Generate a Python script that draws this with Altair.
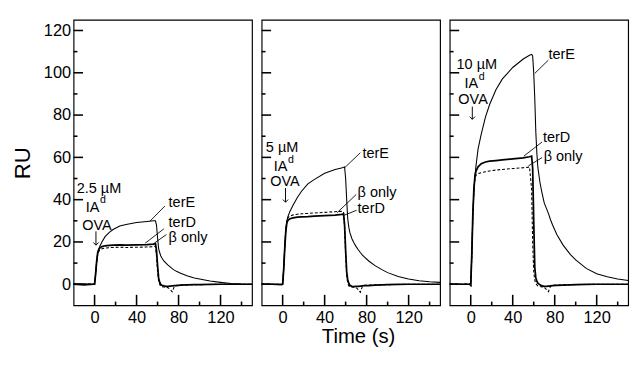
import altair as alt
import pandas as pd

FONT = "Liberation Sans"
W, H = 185, 296
XD = [-20, 150]
YD = [-10, 125]

# time grid (s)
T = [-20, -10, -1, 0, 1, 2, 3, 4, 5, 7, 10, 14, 18, 24, 30, 40, 50, 56, 58, 59,
     60, 61, 62, 63, 64, 66, 68, 70, 72, 74, 76, 78, 82, 88, 95, 100, 110, 120, 130, 140, 150]

# Panel 1: 2.5 uM
P1_TERE = [0, 0.2, 0, 0, 5, 11, 15, 16.5, 18, 20, 22.5, 24.5, 26, 27.5, 28.3, 29.2, 29.7, 30, 30, 28,
           22, 17, 15, 13.5, 12.5, 11, 10, 9, 8.2, 7.4, 6.7, 6.1, 5.2, 4, 3, 2.5, 1.5, 0.9, 0.4, 0.1, 0]
P1_TERD = [0, -0.3, 0, 0, 5, 11, 15, 16.5, 17.2, 17.8, 18.2, 18.4, 18.5, 18.6, 18.5, 18.6, 18.7, 19, 19.2, 16,
           9, 3, 1, 0, -0.5, -0.8, -1, -1, -0.9, -0.8, -0.7, -0.6, -0.4, -0.3, -0.2, -0.2, -0.1, 0, 0, 0, 0]
P1_BETA = [0.3, 0, 0.2, 0, 4.5, 10, 14, 15.5, 16.2, 16.8, 17.1, 17.3, 17.4, 17.5, 17.4, 17.5, 17.6, 17.8, 18, 13,
           6, 1.5, 0, -1, -1.2, -1.3, -1.4, -1.6, -2.5, -3.6, -1, -0.5, -0.4, -0.3, -0.2, -0.2, -0.1, 0, 0, 0, 0]

# Panel 2: 5 uM
P2_TERE = [0, 0, 0, 0, 8, 18, 26, 30, 32, 34.5, 37.5, 41, 44, 47.5, 49.5, 52.5, 54.3, 55, 55.3, 55.5,
           50, 40, 31, 27, 24.5, 21.5, 19.5, 17.8, 16.3, 15, 13.8, 12.8, 11, 8.8, 6.8, 5.5, 3.7, 2.5, 1.7, 1.2, 0.9]
P2_TERD = [0, 0, -0.2, 0, 7, 17, 25, 29, 30.3, 31, 31.4, 31.7, 31.9, 32, 32.2, 32.4, 32.7, 33, 33.2, 28,
           16, 6, 2, 0.5, -0.5, -1, -1.1, -1, -1, -0.9, -0.8, -0.7, -0.6, -0.4, -0.3, -0.2, -0.1, 0, 0, 0, 0]
P2_BETA = [0.2, 0, 0, 0, 7, 17, 25.5, 30, 31.5, 32.3, 32.8, 33.1, 33.3, 33.5, 33.7, 34, 34.3, 34.5, 34.2, 27,
           14, 4, 0.5, -0.8, -1.2, -1.3, -1.4, -1.6, -2.5, -3.8, -1, -0.5, -0.4, -0.3, -0.2, -0.2, -0.1, 0, 0, 0, 0]

# Panel 3: 10 uM
P3_TERE = [0, 0, 0, -0.5, 14, 33, 44, 51, 56, 64, 71, 79, 85, 92, 97, 102.5, 106.5, 108.3, 108.7, 108,
           100, 88, 72, 62, 55, 48, 43, 38.5, 36, 33.5, 30.5, 28, 23.5, 18.5, 14, 11.5, 7.5, 5, 3.5, 2.5, 1.8]
P3_TERD = [0, 0, 0, -0.5, 14, 33, 45, 51, 53.5, 55.5, 57, 57.8, 58.2, 58.5, 58.8, 59.3, 59.8, 60.3, 60.6, 55,
           30, 8, 3, 1.5, 0.5, -0.3, -0.8, -1, -1, -0.9, -0.8, -0.7, -0.5, -0.4, -0.3, -0.2, -0.1, 0, 0, 0, 0]
P3_BETA = [0.3, 0, 0.2, -0.5, 13, 32, 44, 50, 51.5, 52.3, 52.8, 53.2, 53.6, 54, 54.3, 54.7, 55.1, 55.4, 45, 20,
           6, 2, 0.5, -0.3, -0.8, -1.1, -1.3, -1.5, -2.4, -3.5, -1, -0.5, -0.4, -0.3, -0.2, -0.2, -0.1, 0, 0, 0, 0]

# tick values and tick lengths (in data units: ~10 px / ~4 px)
Y_MAJOR = [0, 20, 40, 60, 80, 100, 120]
Y_MINOR = [10, 30, 50, 70, 90, 110]
X_MAJOR = [0, 40, 80, 120]
X_MINOR = [20, 60, 100, 140]
YTICK_LEN = [9.0, 3.7]   # in seconds
XTICK_LEN = [5.0, 1.8]   # in RU

# annotations
TEXT_ALIGN = ["left", "right", "left", "center", "left", "left", "left"]
TEXT_SIZE = [15, 15, 11, 15, 15, 15, 15]
P1_TEXT = ["2.5 µM", "IA", "d", "OVA", "terE", "terD", "β only"]
P2_TEXT = ["5 µM", "IA", "d", "OVA", "terE", "terD", "β only"]
P3_TEXT = ["10 µM", "IA", "d", "OVA", "terE", "terD", "β only"]
P1_TX = [-17, 4.5, 5.2, 2.2, 70.5, 70.5, 70.5]
P1_TY = [43.2, 34, 38.2, 25.7, 36.5, 27, 20]
P2_TX = [-16, 4.5, 5.2, 2.2, 76, 71.4, 71.4]
P2_TY = [62.4, 53.7, 57.3, 46.5, 59.5, 33.5, 41.3]
P3_TX = [-13.5, 7, 7.7, 2.2, 74, 68.8, 69.5]
P3_TY = [102, 93, 96.5, 85.3, 106.5, 67.4, 58.4]

# leader lines (terE, terD, beta only)
P1_LT1 = [52.7, 48.2, 57]; P1_LV1 = [29.8, 19.4, 19.5]; P1_LT2 = [67, 66, 68.5]; P1_LV2 = [37, 26.2, 23.5]
P2_LT1 = [59.5, 58, 51.8]; P2_LV1 = [55.3, 32.5, 33.8]; P2_LT2 = [74, 70.5, 70]; P2_LV2 = [62.2, 35, 42.4]
P3_LT1 = [61, 50.6, 55]; P3_LV1 = [99.7, 60.6, 56]; P3_LT2 = [74, 68, 68]; P3_LV2 = [106, 67.3, 59.9]

# injection arrows: t, top, tip
P1_ARROW = [1.3, 25, 18.5]
P2_ARROW = [2.7, 45.5, 38.8]
P3_ARROW = [1.5, 84, 78]

xs = alt.Scale(domain=XD, nice=False, zero=False)
ys = alt.Scale(domain=YD, nice=False, zero=False)


def tick_frame(panel):
    rows = []
    for vals, ln in [(Y_MAJOR, YTICK_LEN[0]), (Y_MINOR, YTICK_LEN[1])]:
        for v in vals:
            key = f"{panel}y{v}"
            rows.append({"kt": XD[0], "kv": v, "kid": key, "ko": 0})
            rows.append({"kt": XD[0] + ln, "kv": v, "kid": key, "ko": 1})
    for vals, ln in [(X_MAJOR, XTICK_LEN[0]), (X_MINOR, XTICK_LEN[1])]:
        for t in vals:
            key = f"{panel}x{t}"
            rows.append({"kt": t, "kv": YD[0], "kid": key, "ko": 0})
            rows.append({"kt": t, "kv": YD[0] + ln, "kid": key, "ko": 1})
    return pd.DataFrame(rows)


def make_panel(panel, e, d, b, texts, tx, ty, lt1, lv1, lt2, lv2, arrow, first, mid):
    df = pd.DataFrame({"t": T, "e": e, "d": d, "b": b})
    base = alt.Chart(df)
    xk = dict(orient="bottom", values=X_MAJOR, ticks=False, tickSize=0, domain=False,
              grid=False, labelPadding=5, labelFontSize=17, labelFont=FONT, labelColor="black",
              titleFont=FONT, titleFontSize=21, titleFontWeight="normal", titleColor="black",
              titlePadding=0)
    if mid:
        xk["title"] = "Time (s)"
        xk["titleX"] = 100
    else:
        xk["title"] = None
    xlab = alt.Axis(**xk)
    if first:
        ylab = alt.Axis(orient="left", values=Y_MAJOR, ticks=False, tickSize=0,
                        domain=False, grid=False, labelPadding=3, labelFontSize=17, labelFont=FONT,
                        labelColor="black", title="RU", titleFont=FONT, titleFontSize=23,
                        titleFontWeight="normal", titleColor="black", titlePadding=9)
        ye = alt.Y("e:Q", scale=ys, axis=ylab)
    else:
        ye = alt.Y("e:Q", scale=ys, axis=None)

    line_e = base.mark_line(color="black", strokeWidth=1.1).encode(
        x=alt.X("t:Q", scale=xs, axis=xlab), y=ye)
    line_d = base.mark_line(color="black", strokeWidth=1.8).encode(
        x=alt.X("t:Q", scale=xs, axis=None), y=alt.Y("d:Q", scale=ys, axis=None))
    line_b = base.mark_line(color="black", strokeWidth=1.1, strokeDash=[3, 2]).encode(
        x=alt.X("t:Q", scale=xs, axis=None), y=alt.Y("b:Q", scale=ys, axis=None))

    # inward ticks drawn as short two-point line segments
    ticks = alt.Chart(tick_frame(panel)).mark_line(color="black", strokeWidth=1.6).encode(
        x=alt.X("kt:Q", scale=xs, axis=None), y=alt.Y("kv:Q", scale=ys, axis=None),
        detail="kid:N", order="ko:Q")

    ldf = pd.DataFrame({"t1": lt1, "v1": lv1, "t2": lt2, "v2": lv2})
    leaders = alt.Chart(ldf).mark_rule(color="black", strokeWidth=0.9).encode(
        x=alt.X("t1:Q", scale=xs, axis=None), y=alt.Y("v1:Q", scale=ys, axis=None),
        x2="t2:Q", y2="v2:Q")

    adf = pd.DataFrame({"t": [arrow[0]], "top": [arrow[1]], "tip": [arrow[2]]})
    shaft = alt.Chart(adf).mark_rule(color="black", strokeWidth=1).encode(
        x=alt.X("t:Q", scale=xs, axis=None), y=alt.Y("top:Q", scale=ys, axis=None), y2="tip:Q")
    head = alt.Chart(adf).mark_point(shape="M-1,-1L0,0L1,-1", filled=False, color="black",
                                     strokeWidth=1, size=30, opacity=1).encode(
        x=alt.X("t:Q", scale=xs, axis=None), y=alt.Y("tip:Q", scale=ys, axis=None))

    text_layers = []
    for al in ["left", "right", "center"]:
        idx = [i for i, a in enumerate(TEXT_ALIGN) if a == al]
        tdf = pd.DataFrame({"label": [texts[i] for i in idx], "tt": [tx[i] for i in idx],
                            "vv": [ty[i] for i in idx], "fs": [TEXT_SIZE[i] for i in idx]})
        text_layers.append(
            alt.Chart(tdf).mark_text(font=FONT, color="black", align=al, baseline="alphabetic").encode(
                x=alt.X("tt:Q", scale=xs, axis=None), y=alt.Y("vv:Q", scale=ys, axis=None),
                text="label:N", size=alt.Size("fs:Q", scale=None)))

    return alt.layer(line_e, line_d, line_b, ticks, leaders, shaft, head,
                     *text_layers).resolve_axis(
        x="independent", y="independent").properties(width=W, height=H)


p1 = make_panel("a", P1_TERE, P1_TERD, P1_BETA, P1_TEXT, P1_TX, P1_TY, P1_LT1, P1_LV1, P1_LT2, P1_LV2,
                P1_ARROW, True, False)
p2 = make_panel("b", P2_TERE, P2_TERD, P2_BETA, P2_TEXT, P2_TX, P2_TY, P2_LT1, P2_LV1, P2_LT2, P2_LV2,
                P2_ARROW, False, True)
p3 = make_panel("c", P3_TERE, P3_TERD, P3_BETA, P3_TEXT, P3_TX, P3_TY, P3_LT1, P3_LV1, P3_LT2, P3_LV2,
                P3_ARROW, False, False)

chart = alt.hconcat(p1, p2, p3, spacing=0).properties(
    padding={"left": 4, "top": 5, "right": 0, "bottom": 0}, background="white"
).configure_view(stroke="black", strokeWidth=1.2)

chart.save("out.html", embed_options={"renderer": "svg", "actions": False})
